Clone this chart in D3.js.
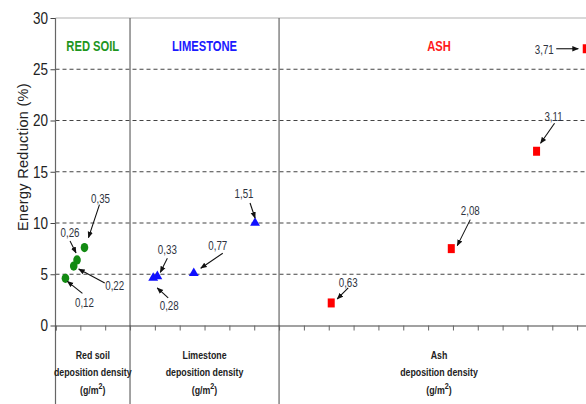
<!DOCTYPE html>
<html>
<head>
<meta charset="utf-8">
<script src="https://cdn.jsdelivr.net/npm/d3@7"></script>
<style>
  html, body { margin: 0; padding: 0; background: #fff; }
  svg { display: block; }
  text { font-family: "Liberation Sans", Arial, sans-serif; }
</style>
</head>
<body>
<svg id="chart" width="586" height="404"></svg>
<script>
// Deposition density (g/m²) and energy reduction (%) per material
const panels = ["RED SOIL", "LIMESTONE", "ASH"];
const panelAxisLabels = ["Red soil", "Limestone", "Ash"];
const panelSpans = [0.9, 1.8, 3.9];           // density range covered by each panel

const redSoilDensity = [0.12, 0.22, 0.26, 0.35];
const redSoilReduction = [4.6, 5.8, 6.4, 7.6];
const limestoneDensity = [0.28, 0.33, 0.77, 1.51];
const limestoneReduction = [4.65, 4.8, 5.1, 10.0];
const ashDensity = [0.63, 2.08, 3.11, 3.71];
const ashReduction = [2.2, 7.5, 17.0, 27.0];

const yTicks = [0, 5, 10, 15, 20, 25, 30];

// Callout placement for each point: label offset, arrow start, arrow tip (px)
const redSoilCallouts = [
  {lx: 19, ly: 29, ax: 17, ay: 15, tx: 2, ty: 3},
  {lx: 41, ly: 24, ax: 31, ay: 17, tx: 5, ty: 3},
  {lx: -7, ly: -23, ax: -7, ay: -19, tx: -1, ty: -7},
  {lx: 16, ly: -45, ax: 15, ay: -43, tx: 4, ty: -10}
];
const limestoneCallouts = [
  {lx: 16, ly: 32, ax: 15, ay: 20, tx: 4, ty: 10},
  {lx: 10, ly: -22, ax: 10, ay: -18, tx: 3, ty: -4},
  {lx: 24, ly: -23, ax: 29, ay: -20, tx: 7, ty: -5},
  {lx: -11, ly: -25, ax: -5, ay: -20, tx: 0, ty: -5}
];
const ashCallouts = [
  {lx: 17, ly: -16, ax: 17, ay: -15, tx: 6, ty: -4},
  {lx: 19, ly: -34, ax: 19, ay: -29, tx: 6, ty: -3},
  {lx: 17, ly: -30, ax: 18, ay: -28, tx: 4, ty: -8},
  {lx: -42, ly: 5, ax: -30, ay: 0, tx: -8, ty: 0}
];

const series = [
  {density: redSoilDensity, reduction: redSoilReduction, callouts: redSoilCallouts, color: "#128a12", shape: "circle"},
  {density: limestoneDensity, reduction: limestoneReduction, callouts: limestoneCallouts, color: "#1010ff", shape: "triangle"},
  {density: ashDensity, reduction: ashReduction, callouts: ashCallouts, color: "#ff0000", shape: "square"}
];
const titleColors = ["#1e961e", "#1a1aff", "#ff1a1a"];

const svg = d3.select("#chart");
const W = 586, H = 404;
const plotLeft = 55.5, plotTop = 18, plotBottom = 325.5;

// narrow lettering: text squeezed horizontally around its anchor
function narrowText(parent, x, y, str, size, squeeze) {
  return parent.append("text")
    .attr("transform", `translate(${x},${y}) scale(${squeeze},1)`)
    .attr("text-anchor", "middle").attr("font-size", size).text(str);
}

// Each panel starts where the previous one ends on a shared density axis
const starts = panelSpans.reduce((acc, s, i) => { acc.push(i ? acc[i - 1] + panelSpans[i - 1] : 0); return acc; }, []);
const total = d3.sum(panelSpans);
const x = d3.scaleLinear().domain([0, total]).range([plotLeft, plotLeft + total * 82.8]);
const y = d3.scaleLinear().domain([0, 30]).range([plotBottom, plotTop]);

const defs = svg.append("defs");
defs.append("marker").attr("id", "arrow").attr("viewBox", "0 0 10 10")
  .attr("refX", 9).attr("refY", 5).attr("markerWidth", 6).attr("markerHeight", 6)
  .attr("orient", "auto")
  .append("path").attr("d", "M0,1 L10,5 L0,9 Z").attr("fill", "#111");

// top border
svg.append("line").attr("x1", plotLeft).attr("x2", W).attr("y1", plotTop).attr("y2", plotTop)
  .attr("stroke", "#d8d8d8").attr("stroke-width", 2);

// dashed horizontal grid
svg.append("g").selectAll("line").data(yTicks.filter(t => t > 0 && t < 30)).join("line")
  .attr("x1", plotLeft).attr("x2", W).attr("y1", d => y(d)).attr("y2", d => y(d))
  .attr("stroke", "#444").attr("stroke-width", 1.2).attr("stroke-dasharray", "4,3");

// y axis
const yAxis = svg.append("g").attr("transform", `translate(${plotLeft},0)`)
  .call(d3.axisLeft(y).tickValues(yTicks).tickSize(5).tickPadding(4));
yAxis.select(".domain").remove();
yAxis.selectAll(".tick line").attr("stroke", "#444");
yAxis.selectAll(".tick text").attr("font-size", 16.5).attr("fill", "#222")
  .attr("transform", "scale(0.82,1)");

// vertical axis line and panel separators running into the label area
svg.append("line").attr("x1", plotLeft).attr("x2", plotLeft).attr("y1", plotTop).attr("y2", H)
  .attr("stroke", "#666").attr("stroke-width", 1.2);
svg.append("g").selectAll("line").data(starts.slice(1)).join("line")
  .attr("x1", d => x(d)).attr("x2", d => x(d)).attr("y1", plotTop).attr("y2", H)
  .attr("stroke", "#666").attr("stroke-width", 1.2);

// x axis with ticks every 0.3 g/m²
const xTicks = d3.range(0, total + 0.001, 0.3);
const xAxis = svg.append("g").attr("transform", `translate(0,${plotBottom})`)
  .call(d3.axisBottom(x).tickValues(xTicks).tickSize(5).tickFormat(""));
xAxis.select(".domain").attr("stroke", "#444").attr("stroke-width", 1.2);
xAxis.selectAll(".tick line").attr("stroke", "#666");

// y axis title
svg.append("text").attr("transform", `translate(28,157) rotate(-90)`)
  .attr("text-anchor", "middle").attr("font-size", 14.5).attr("fill", "#222")
  .attr("letter-spacing", 0.3)
  .text("Energy Reduction (%)");

// panel titles and bottom labels
panels.forEach((p, i) => {
  const cx = i < 2 ? (x(starts[i]) + x(starts[i] + panelSpans[i])) / 2 : 439;
  narrowText(svg, cx, 51, p, 14, 0.8)
    .attr("font-weight", "bold").attr("fill", titleColors[i]);
  const g = narrowText(svg, cx, 0, null, 11, 0.8)
    .attr("font-weight", "bold").attr("fill", "#222");
  g.append("tspan").attr("x", 0).attr("y", 359).text(panelAxisLabels[i]);
  g.append("tspan").attr("x", 0).attr("y", 376).text("deposition density");
  const t3 = g.append("tspan").attr("x", 0).attr("y", 394).text("(g/m");
  t3.append("tspan").attr("dy", -5).attr("font-size", 9).text("2");
  t3.append("tspan").attr("dy", 5).text(")");
});

// markers and callouts
series.forEach((s, si) => {
  const pts = s.density.map((d, i) => ({d, v: s.reduction[i], c: s.callouts[i],
    px: x(starts[si] + d), py: y(s.reduction[i])}));
  const g = svg.append("g");
  pts.forEach(p => {
    if (s.shape === "circle") {
      g.append("ellipse").attr("cx", p.px).attr("cy", p.py).attr("rx", 3.8).attr("ry", 4.6).attr("fill", s.color);
    } else if (s.shape === "triangle") {
      g.append("path").attr("d", d3.symbol(d3.symbolTriangle, 42)()).attr("transform", `translate(${p.px},${p.py})`)
        .attr("fill", s.color);
    } else {
      g.append("rect").attr("x", p.px - 3.5).attr("y", p.py - 4.5).attr("width", 7).attr("height", 9).attr("fill", s.color);
    }
    g.append("line").attr("x1", p.px + p.c.ax).attr("y1", p.py + p.c.ay)
      .attr("x2", p.px + p.c.tx).attr("y2", p.py + p.c.ty)
      .attr("stroke", "#111").attr("stroke-width", 1.1).attr("marker-end", "url(#arrow)");
    narrowText(g, p.px + p.c.lx, p.py + p.c.ly, d3.format(".2f")(p.d).replace(".", ","), 13, 0.75)
      .attr("fill", "#2e3340");
  });
});
</script>
</body>
</html>
